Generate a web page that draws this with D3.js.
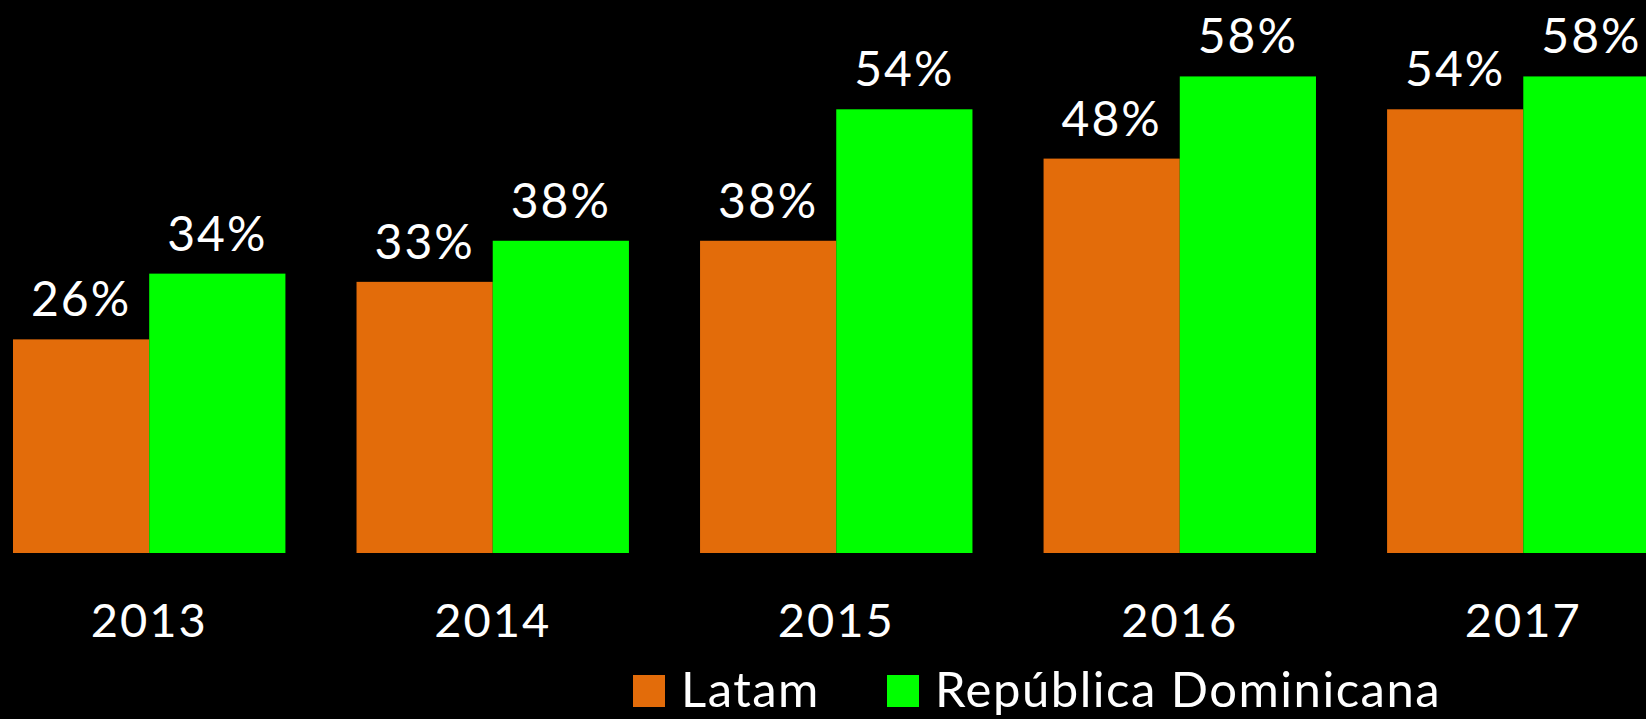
<!DOCTYPE html>
<html>
<head>
<meta charset="utf-8">
<script src="https://cdn.jsdelivr.net/npm/d3@7"></script>
<style>
  html, body { margin: 0; padding: 0; background: #000; overflow: hidden; }
  text { font-family: Lato, "Open Sans", sans-serif; fill: #fff; }
</style>
</head>
<body>
<svg id="chart"></svg>
<script>
const size = {w: 1646, h: 719};

const years = ['2013', '2014', '2015', '2016', '2017'];
const seriesNames = ['Latam', 'República Dominicana'];
const latam = [26, 33, 38, 48, 54];
const dominicana = [34, 38, 54, 58, 58];
const colors = ['#E36C0A', '#00FF00'];

const svg = d3.select('svg#chart')
    .attr('width', size.w)
    .attr('height', size.h);

// groups run off the right edge a little, like the original slide
let xScale = d3.scaleBand()
    .domain(years)
    .range([13, 1659.5])
    .paddingInner(0.207)
    .paddingOuter(0);

let xInner = d3.scaleBand()
    .domain(seriesNames)
    .range([0, xScale.bandwidth()]);

let yScale = d3.scaleLinear()
    .domain([0, 60])
    .range([553, 60]);

let data = years.map((y, i) => {
    return {year: y, values: [latam[i], dominicana[i]]};
});

let groups = svg.append('g')
    .classed('bars', true)
    .selectAll('g')
    .data(data)
    .join('g')
    .attr('transform', d => `translate(${xScale(d.year)}, 0)`);

let cells = groups.selectAll('g')
    .data(d => d.values.map((v, i) => ({name: seriesNames[i], value: v, idx: i})))
    .join('g');

cells.append('rect')
    .attr('x', d => xInner(d.name))
    .attr('y', d => yScale(d.value))
    .attr('width', xInner.bandwidth())
    .attr('height', d => yScale(0) - yScale(d.value))
    .attr('fill', d => colors[d.idx]);

cells.append('text')
    .attr('x', d => xInner(d.name) + xInner.bandwidth() / 2)
    .attr('y', d => yScale(d.value) - 23)
    .attr('text-anchor', 'middle')
    .style('font-size', '48px')
    .style('letter-spacing', '2px')
    .text(d => d.value + '%');

// year labels under each group
let xAxis = svg.append('g')
    .classed('axis-x', true)
    .attr('transform', `translate(0, ${yScale(0)})`)
    .call(d3.axisBottom(xScale).tickSize(0).tickPadding(0));
xAxis.select('.domain').remove();
xAxis.selectAll('text')
    .attr('dy', null)
    .attr('y', 84)
    .attr('fill', null)
    .style('font-size', '47px')
    .style('letter-spacing', '2px')
    .style('font-family', 'Lato, "Open Sans", sans-serif');

// legend
let legendX = [633, 887];
let legend = svg.append('g')
    .classed('legend', true)
    .selectAll('g')
    .data(seriesNames)
    .join('g')
    .attr('transform', (d, i) => `translate(${legendX[i]}, 675)`);

legend.append('rect')
    .attr('width', 32)
    .attr('height', 32)
    .attr('fill', (d, i) => colors[i]);

legend.append('text')
    .attr('x', 48)
    .attr('y', 32)
    .style('font-size', '49px')
    .style('letter-spacing', '1.5px')
    .text(d => d);
</script>
</body>
</html>
